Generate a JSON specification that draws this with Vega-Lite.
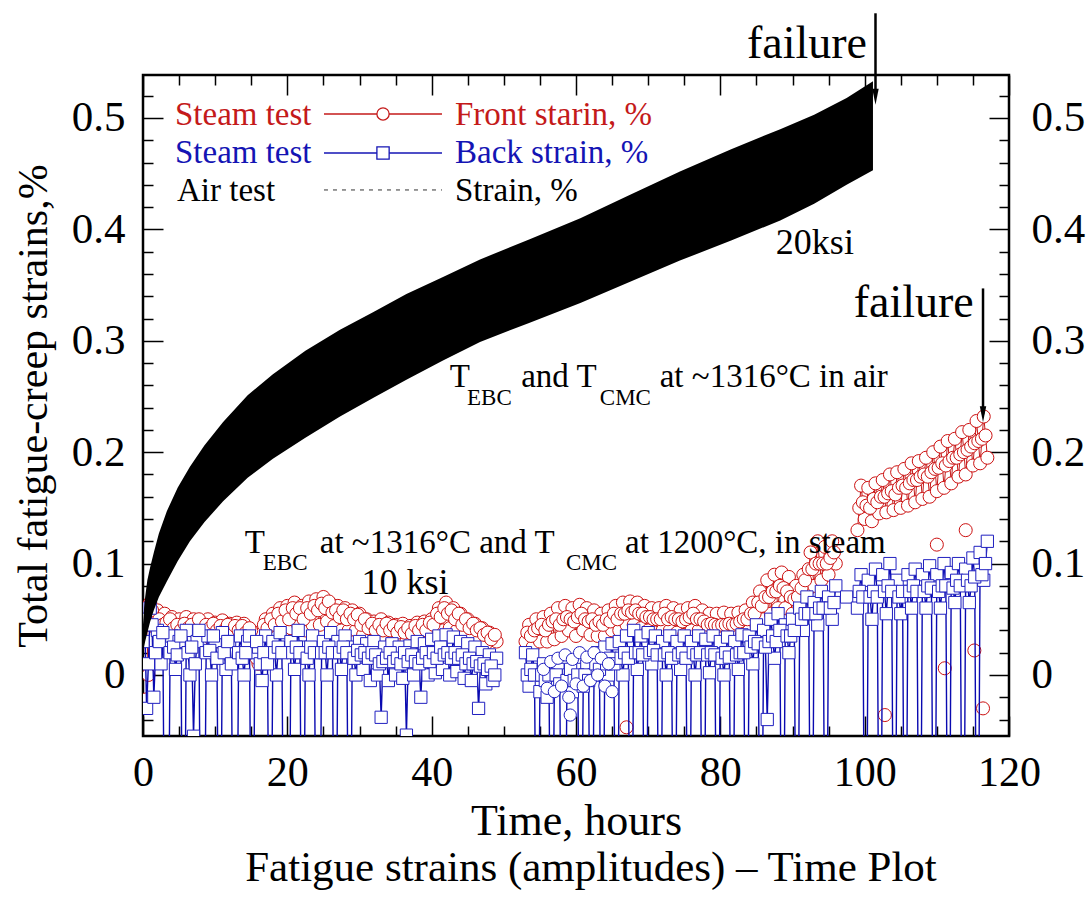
{
"$schema": "https://vega.github.io/schema/vega-lite/v6.json",
"width": 866, "height": 661,
"autosize": {"type": "none"},
"padding": {"left": 143, "top": 75, "right": 78, "bottom": 164},
"background": "white",
"config": {
  "view": {"stroke": "black", "strokeWidth": 2.5},
  "font": "Liberation Serif",
  "axis": {"grid": false, "domain": false, "labelFont": "Liberation Serif", "titleFont": "Liberation Serif", "labelColor": "black", "titleColor": "black", "tickColor": "black", "tickWidth": 1.5, "titleFontWeight": "normal", "labelFlush": false, "labelOverlap": false, "labelBound": false}
},
"title": {"text": "Fatigue strains (amplitudes) – Time Plot", "orient": "bottom", "anchor": "middle", "fontSize": 43, "font": "Liberation Serif", "fontWeight": "normal", "color": "black", "offset": 4, "dx": 15},
"resolve": {"axis": {"x": "independent", "y": "independent"}},
"datasets": {
  "steam": [
{"t":0,"f":0.03,"b":0.03},{"t":0.5,"f":0.045,"b":-0.03},{"t":1,"f":0.065,"b":0.06},{"t":1.5,"f":0.05,"b":-0.02},{"t":2,"f":0.058,"b":0.04},{"t":2.5,"f":0.035,"b":0.01},{"t":3,"f":0.055,"b":-0.2},{"t":3.5,"f":0.04,"b":-0.2},{"t":4,"f":0.052,"b":0.035},{"t":4.5,"f":0.03,"b":0.005},{"t":5,"f":0.05,"b":0.03},{"t":5.5,"f":0.034,"b":-0.2},{"t":6,"f":0.052,"b":0.04},{"t":6.5,"f":0.03,"b":0},{"t":7,"f":0.05,"b":-0.055},{"t":7.5,"f":0.036,"b":0.03},{"t":8,"f":0.048,"b":-0.2},{"t":8.5,"f":0.03,"b":-0.2},{"t":9,"f":0.05,"b":0.035},{"t":9.5,"f":0.032,"b":0},{"t":10,"f":0.047,"b":0.03},{"t":10.5,"f":0.03,"b":-0.2},{"t":11,"f":0.049,"b":0.038},{"t":11.5,"f":0.028,"b":0.005},{"t":12,"f":0.046,"b":0.03},{"t":12.5,"f":0.032,"b":-0.2},{"t":13,"f":0.047,"b":-0.2},{"t":13.5,"f":0.03,"b":0.035},{"t":14,"f":0.046,"b":0},{"t":14.5,"f":0.028,"b":0.03},{"t":15,"f":0.04,"b":-0.2},{"t":15.5,"f":0.02,"b":0.02},{"t":16,"f":0.01,"b":0.025},{"t":16.5,"f":0.03,"b":-0.005},{"t":17,"f":0.05,"b":0.035},{"t":17.5,"f":0.035,"b":-0.2},{"t":18,"f":0.055,"b":0.03},{"t":18.5,"f":0.038,"b":0},{"t":19,"f":0.06,"b":0.038},{"t":19.5,"f":0.04,"b":-0.2},{"t":20,"f":0.062,"b":-0.2},{"t":20.5,"f":0.042,"b":0.03},{"t":21,"f":0.065,"b":0.005},{"t":21.5,"f":0.045,"b":0.04},{"t":22,"f":0.062,"b":-0.2},{"t":22.5,"f":0.04,"b":0.025},{"t":23,"f":0.066,"b":0},{"t":23.5,"f":0.045,"b":0.035},{"t":24,"f":0.068,"b":-0.2},{"t":24.5,"f":0.045,"b":-0.2},{"t":25,"f":0.07,"b":0.03},{"t":25.5,"f":0.048,"b":0},{"t":26,"f":0.064,"b":0.038},{"t":26.5,"f":0.044,"b":-0.2},{"t":27,"f":0.062,"b":0.03},{"t":27.5,"f":0.04,"b":0.005},{"t":28,"f":0.06,"b":0.035},{"t":28.5,"f":0.04,"b":-0.2},{"t":29,"f":0.058,"b":0.025},{"t":29.5,"f":0.04,"b":0},
{"t":30,"f":0.055,"b":0.03},{"t":30.5,"f":0.036,"b":0.005},{"t":31,"f":0.05,"b":0.028},{"t":31.5,"f":0.032,"b":-0.005},{"t":32,"f":0.048,"b":0.03},{"t":32.5,"f":0.03,"b":0},{"t":33,"f":0.05,"b":-0.038},{"t":33.5,"f":0.032,"b":0.025},{"t":34,"f":0.047,"b":-0.005},{"t":34.5,"f":0.03,"b":0.028},{"t":35,"f":0.045,"b":0},{"t":35.5,"f":0.028,"b":0.025},{"t":36,"f":0.046,"b":-0.003},{"t":36.5,"f":0.03,"b":-0.054},{"t":37,"f":0.044,"b":0.026},{"t":37.5,"f":0.028,"b":0},{"t":38,"f":0.047,"b":0.03},{"t":38.5,"f":0.03,"b":-0.02},{"t":39,"f":0.048,"b":0.028},{"t":39.5,"f":0.032,"b":0},{"t":40,"f":0.05,"b":0.032},{"t":40.5,"f":0.035,"b":0.002},{"t":41,"f":0.06,"b":0.035},{"t":41.5,"f":0.04,"b":0.005},{"t":42,"f":0.065,"b":0.036},{"t":42.5,"f":0.042,"b":0},{"t":43,"f":0.06,"b":0.034},{"t":43.5,"f":0.04,"b":0.003},{"t":44,"f":0.055,"b":0.03},{"t":44.5,"f":0.035,"b":-0.003},{"t":45,"f":0.05,"b":0.028},{"t":45.5,"f":0.032,"b":-0.005},{"t":46,"f":0.046,"b":0.025},{"t":46.5,"f":0.03,"b":-0.03},{"t":47,"f":0.042,"b":0.02},{"t":47.5,"f":0.028,"b":-0.008},{"t":48,"f":0.038,"b":0.018},{"t":48.5,"f":0.035,"b":-0.005},{"t":49,"f":0.03,"b":0.015},
{"t":51},
{"t":53,"f":0.03,"b":0.02},{"t":53.5,"f":0.045,"b":-0.01},{"t":54,"f":0.025,"b":0.018},{"t":54.5,"f":0.05,"b":-0.2},{"t":55,"f":0.03,"b":-0.015},{"t":55.5,"f":0.052,"b":0.01},{"t":56,"f":0.03,"b":-0.02},{"t":56.5,"f":0.055,"b":-0.2},{"t":57,"f":0.032,"b":-0.01},{"t":57.5,"f":0.06,"b":0.005},{"t":58,"f":0.035,"b":-0.2},{"t":58.5,"f":0.062,"b":-0.2},{"t":59,"f":0.04,"b":0},{"t":59.5,"f":0.06,"b":-0.015},{"t":60,"f":0.035,"b":0.005},{"t":60.5,"f":0.063,"b":-0.2},{"t":61,"f":0.04,"b":-0.01},{"t":61.5,"f":0.06,"b":0.008},{"t":62,"f":0.036,"b":-0.2},{"t":62.5,"f":0.058,"b":0},{"t":63,"f":0.035,"b":0.02},{"t":63.5,"f":0.055,"b":-0.2},{"t":64,"f":0.035,"b":0.025},{"t":64.5,"f":0.058,"b":0},{"t":65,"f":0.04,"b":0.028},{"t":65.5,"f":0.062,"b":-0.2},{"t":66,"f":0.04,"b":0.03},{"t":66.5,"f":0.065,"b":0},{"t":67,"f":0.045,"b":0.035},{"t":67.5,"f":0.066,"b":-0.2},{"t":68,"f":0.045,"b":0.04},{"t":68.5,"f":0.065,"b":0.005},{"t":69,"f":0.042,"b":0.035},{"t":69.5,"f":0.062,"b":-0.2},{"t":70,"f":0.04,"b":0.038},{"t":70.5,"f":0.06,"b":0.01},{"t":71,"f":0.038,"b":0.035},{"t":71.5,"f":0.06,"b":-0.2},{"t":72,"f":0.04,"b":0.03},{"t":72.5,"f":0.062,"b":0},{"t":73,"f":0.04,"b":0.035},{"t":73.5,"f":0.06,"b":-0.2},{"t":74,"f":0.038,"b":0.03},{"t":74.5,"f":0.058,"b":0.005},{"t":75,"f":0.036,"b":0.035},{"t":75.5,"f":0.06,"b":-0.2},{"t":76,"f":0.04,"b":0.03},{"t":76.5,"f":0.062,"b":0},{"t":77,"f":0.04,"b":0.035},{"t":77.5,"f":0.058,"b":-0.2},{"t":78,"f":0.036,"b":0.032},{"t":78.5,"f":0.055,"b":0.002},{"t":79,"f":0.035,"b":0.035},{"t":79.5,"f":0.055,"b":-0.2},{"t":80,"f":0.035,"b":0.03},{"t":80.5,"f":0.056,"b":0},{"t":81,"f":0.034,"b":0.034},{"t":81.5,"f":0.055,"b":-0.2},{"t":82,"f":0.034,"b":0.03},{"t":82.5,"f":0.056,"b":0.005},{"t":83,"f":0.036,"b":0.036},{"t":83.5,"f":0.058,"b":-0.2},{"t":84,"f":0.04,"b":0.035},{"t":84.5,"f":0.065,"b":0.01},{"t":85,"f":0.045,"b":0.045},{"t":85.5,"f":0.075,"b":-0.2},{"t":86,"f":0.05,"b":0.04},{"t":86.5,"f":0.085,"b":-0.04},{"t":87,"f":0.055,"b":0.05},{"t":87.5,"f":0.09,"b":0.015},{"t":88,"f":0.06,"b":0.055},{"t":88.5,"f":0.092,"b":-0.2},{"t":89,"f":0.06,"b":0.045},{"t":89.5,"f":0.088,"b":0.02},{"t":90,"f":0.055,"b":0.05},{"t":90.5,"f":0.08,"b":-0.2},{"t":91,"f":0.06,"b":0.06},{"t":91.5,"f":0.09,"b":0.04},{"t":92,"f":0.075,"b":0.07},{"t":92.5,"f":0.11,"b":-0.2},{"t":93,"f":0.08,"b":0.065},{"t":93.5,"f":0.12,"b":0.045},{"t":94,"f":0.085,"b":0.075},{"t":94.5,"f":0.115,"b":-0.2},{"t":95,"f":0.09,"b":0.07},{"t":95.5,"f":0.12,"b":0.05},{"t":96,"f":0.1,"b":0.08},
{"t":97.5,"b":0.07},
{"t":99,"f":0.13,"b":0.06},{"t":99.5,"f":0.17,"b":0.09},{"t":100,"f":0.14,"b":-0.2},{"t":100.5,"f":0.168,"b":0.085},{"t":101,"f":0.138,"b":0.05},{"t":101.5,"f":0.172,"b":0.095},{"t":102,"f":0.145,"b":-0.2},{"t":102.5,"f":0.175,"b":0.09},{"t":103,"f":0.146,"b":0.055},{"t":103.5,"f":0.18,"b":0.1},{"t":104,"f":0.148,"b":-0.2},{"t":104.5,"f":0.182,"b":0.085},{"t":105,"f":0.15,"b":0.055},{"t":105.5,"f":0.185,"b":-0.2},{"t":106,"f":0.152,"b":0.09},{"t":106.5,"f":0.19,"b":0.06},{"t":107,"f":0.155,"b":0.095},{"t":107.5,"f":0.192,"b":-0.2},{"t":108,"f":0.158,"b":0.09},{"t":108.5,"f":0.195,"b":0.06},{"t":109,"f":0.16,"b":0.098},{"t":109.5,"f":0.2,"b":-0.2},{"t":110,"f":0.165,"b":0.09},{"t":110.5,"f":0.205,"b":0.06},{"t":111,"f":0.168,"b":0.1},{"t":111.5,"f":0.21,"b":-0.2},{"t":112,"f":0.172,"b":0.092},{"t":112.5,"f":0.212,"b":0.065},{"t":113,"f":0.178,"b":0.1},{"t":113.5,"f":0.218,"b":-0.2},{"t":114,"f":0.18,"b":0.095},{"t":114.5,"f":0.22,"b":0.065},{"t":115,"f":0.188,"b":0.105},{"t":115.5,"f":0.228,"b":-0.2},{"t":116,"f":0.19,"b":0.11},{"t":116.5,"f":0.232,"b":0.085},{"t":117,"f":0.195,"b":0.12},
{"t":0.25,"f":0.06,"b":0.05},{"t":0.75,"f":0.0,"b":0.01},{"t":1.25,"f":0.058,"b":0.045},{"t":1.75,"f":0.042,"b":0.02},{"t":2.25,"f":0.05,"b":0.03},{"t":2.75,"f":0.045,"b":0.038},{"t":3.25,"f":0.047,"b":-0.2},{"t":3.75,"f":0.05,"b":0.02},{"t":4.25,"f":0.042,"b":0.025},{"t":4.75,"f":0.045,"b":0.018},{"t":5.25,"f":0.04,"b":0.035},{"t":5.75,"f":0.046,"b":-0.2},{"t":6.25,"f":0.042,"b":0.02},{"t":6.75,"f":0.045,"b":0.025},{"t":7.25,"f":0.04,"b":0.01},{"t":7.75,"f":0.05,"b":0.04},{"t":8.25,"f":0.04,"b":-0.2},{"t":8.75,"f":0.045,"b":0.02},{"t":9.25,"f":0.042,"b":0.022},{"t":9.75,"f":0.046,"b":0.035},{"t":10.25,"f":0.04,"b":0.015},{"t":10.75,"f":0.044,"b":-0.2},{"t":11.25,"f":0.04,"b":0.02},{"t":11.75,"f":0.045,"b":0.03},{"t":12.25,"f":0.038,"b":0.01},{"t":12.75,"f":0.044,"b":-0.2},{"t":13.25,"f":0.04,"b":0.02},{"t":13.75,"f":0.044,"b":0.015},{"t":14.25,"f":0.038,"b":0.02},{"t":14.75,"f":0.042,"b":0.035},{"t":15.25,"f":0.03,"b":-0.2},{"t":15.75,"f":0.015,"b":0.03},{"t":16.25,"f":0.02,"b":0.01},{"t":16.75,"f":0.045,"b":0.02},{"t":17.25,"f":0.042,"b":0.01},{"t":17.75,"f":0.05,"b":-0.2},{"t":18.25,"f":0.045,"b":0.02},{"t":18.75,"f":0.055,"b":0.025},{"t":19.25,"f":0.048,"b":0.02},{"t":19.75,"f":0.058,"b":-0.2},{"t":20.25,"f":0.05,"b":-0.2},{"t":20.75,"f":0.06,"b":0.02},{"t":21.25,"f":0.055,"b":0.025},{"t":21.75,"f":0.06,"b":0.02},{"t":22.25,"f":0.05,"b":-0.2},{"t":22.75,"f":0.06,"b":0.015},{"t":23.25,"f":0.055,"b":0.025},{"t":23.75,"f":0.062,"b":0.02},{"t":24.25,"f":0.058,"b":-0.2},{"t":24.75,"f":0.064,"b":0.02},{"t":25.25,"f":0.06,"b":0.02},{"t":25.75,"f":0.066,"b":0.025},{"t":26.25,"f":0.056,"b":0.02},{"t":26.75,"f":0.058,"b":-0.2},{"t":27.25,"f":0.052,"b":0.02},{"t":27.75,"f":0.058,"b":0.025},{"t":28.25,"f":0.05,"b":0.02},{"t":28.75,"f":0.055,"b":-0.2},{"t":29.25,"f":0.05,"b":0.015},{"t":29.75,"f":0.054,"b":0.022},
{"t":30.25,"f":0.045,"b":0.018},{"t":30.75,"f":0.05,"b":0.02},{"t":31.25,"f":0.042,"b":0.015},{"t":31.75,"f":0.046,"b":0.02},{"t":32.25,"f":0.04,"b":0.018},{"t":32.75,"f":0.045,"b":0.01},{"t":33.25,"f":0.04,"b":0.012},{"t":33.75,"f":0.046,"b":0.015},{"t":34.25,"f":0.04,"b":0.02},{"t":34.75,"f":0.044,"b":0.012},{"t":35.25,"f":0.038,"b":0.015},{"t":35.75,"f":0.043,"b":0.01},{"t":36.25,"f":0.038,"b":0.02},{"t":36.75,"f":0.042,"b":0.012},{"t":37.25,"f":0.037,"b":0.018},{"t":37.75,"f":0.044,"b":0.012},{"t":38.25,"f":0.04,"b":0.01},{"t":38.75,"f":0.045,"b":0.015},{"t":39.25,"f":0.04,"b":0.02},{"t":39.75,"f":0.047,"b":0.012},{"t":40.25,"f":0.045,"b":0.02},{"t":40.75,"f":0.055,"b":0.015},{"t":41.25,"f":0.052,"b":0.025},{"t":41.75,"f":0.06,"b":0.018},{"t":42.25,"f":0.055,"b":0.02},{"t":42.75,"f":0.058,"b":0.015},{"t":43.25,"f":0.05,"b":0.02},{"t":43.75,"f":0.055,"b":0.015},{"t":44.25,"f":0.045,"b":0.018},{"t":44.75,"f":0.05,"b":0.01},{"t":45.25,"f":0.042,"b":0.015},{"t":45.75,"f":0.046,"b":0.01},{"t":46.25,"f":0.04,"b":0.012},{"t":46.75,"f":0.042,"b":0.008},{"t":47.25,"f":0.036,"b":0.01},{"t":47.75,"f":0.038,"b":0.005},{"t":48.25,"f":0.032,"b":0.008},{"t":48.75,"f":0.036,"b":0},
{"t":53.25,"f":0.038,"b":0},{"t":53.75,"f":0.035,"b":0.005},{"t":54.25,"f":0.04,"b":0},{"t":54.75,"f":0.042,"b":-0.2},{"t":55.25,"f":0.045,"b":0},{"t":55.75,"f":0.04,"b":-0.005},{"t":56.25,"f":0.045,"b":0},{"t":56.75,"f":0.048,"b":-0.2},{"t":57.25,"f":0.05,"b":0},{"t":57.75,"f":0.045,"b":-0.008},{"t":58.25,"f":0.05,"b":-0.2},{"t":58.75,"f":0.052,"b":-0.005},{"t":59.25,"f":0.05,"b":0.005},{"t":59.75,"f":0.048,"b":-0.005},{"t":60.25,"f":0.052,"b":0},{"t":60.75,"f":0.055,"b":-0.2},{"t":61.25,"f":0.05,"b":0},{"t":61.75,"f":0.048,"b":-0.005},{"t":62.25,"f":0.05,"b":-0.2},{"t":62.75,"f":0.045,"b":0.01},{"t":63.25,"f":0.048,"b":0.005},{"t":63.75,"f":0.045,"b":-0.2},{"t":64.25,"f":0.05,"b":0.01},{"t":64.75,"f":0.048,"b":0.015},{"t":65.25,"f":0.055,"b":0.01},{"t":65.75,"f":0.05,"b":-0.2},{"t":66.25,"f":0.055,"b":0.015},{"t":66.75,"f":0.055,"b":0.02},{"t":67.25,"f":0.058,"b":0.015},{"t":67.75,"f":0.056,"b":-0.2},{"t":68.25,"f":0.058,"b":0.02},{"t":68.75,"f":0.055,"b":0.02},{"t":69.25,"f":0.055,"b":0.018},{"t":69.75,"f":0.052,"b":-0.2},{"t":70.25,"f":0.052,"b":0.02},{"t":70.75,"f":0.05,"b":0.022},{"t":71.25,"f":0.05,"b":0.018},{"t":71.75,"f":0.05,"b":-0.2},{"t":72.25,"f":0.055,"b":0.018},{"t":72.75,"f":0.05,"b":0.02},{"t":73.25,"f":0.052,"b":0.015},{"t":73.75,"f":0.05,"b":-0.2},{"t":74.25,"f":0.05,"b":0.018},{"t":74.75,"f":0.048,"b":0.02},{"t":75.25,"f":0.05,"b":0.015},{"t":75.75,"f":0.052,"b":-0.2},{"t":76.25,"f":0.055,"b":0.02},{"t":76.75,"f":0.05,"b":0.018},{"t":77.25,"f":0.05,"b":0.02},{"t":77.75,"f":0.048,"b":-0.2},{"t":78.25,"f":0.045,"b":0.018},{"t":78.75,"f":0.046,"b":0.02},{"t":79.25,"f":0.045,"b":0.018},{"t":79.75,"f":0.044,"b":-0.2},{"t":80.25,"f":0.045,"b":0.015},{"t":80.75,"f":0.045,"b":0.02},{"t":81.25,"f":0.046,"b":0.016},{"t":81.75,"f":0.045,"b":-0.2},{"t":82.25,"f":0.046,"b":0.018},{"t":82.75,"f":0.048,"b":0.02},{"t":83.25,"f":0.05,"b":0.02},{"t":83.75,"f":0.05,"b":-0.2},{"t":84.25,"f":0.055,"b":0.025},{"t":84.75,"f":0.055,"b":0.03},{"t":85.25,"f":0.065,"b":0.028},{"t":85.75,"f":0.062,"b":-0.2},{"t":86.25,"f":0.07,"b":0.025},{"t":86.75,"f":0.07,"b":0.03},{"t":87.25,"f":0.075,"b":0.035},{"t":87.75,"f":0.075,"b":0.03},{"t":88.25,"f":0.08,"b":0.04},{"t":88.75,"f":0.078,"b":-0.2},{"t":89.25,"f":0.075,"b":0.035},{"t":89.75,"f":0.07,"b":0.035},{"t":90.25,"f":0.068,"b":0.04},{"t":90.75,"f":0.07,"b":-0.2},{"t":91.25,"f":0.078,"b":0.05},{"t":91.75,"f":0.085,"b":0.055},{"t":92.25,"f":0.095,"b":0.055},{"t":92.75,"f":0.095,"b":-0.2},{"t":93.25,"f":0.1,"b":0.055},{"t":93.75,"f":0.1,"b":0.06},{"t":94.25,"f":0.1,"b":0.06},{"t":94.75,"f":0.1,"b":-0.2},{"t":95.25,"f":0.105,"b":0.06},{"t":95.75,"f":0.11,"b":0.065},
{"t":99.25,"f":0.15,"b":0.075},{"t":99.75,"f":0.155,"b":0.07},{"t":100.25,"f":0.152,"b":-0.2},{"t":100.75,"f":0.15,"b":0.07},{"t":101.25,"f":0.158,"b":0.075},{"t":101.75,"f":0.155,"b":0.07},{"t":102.25,"f":0.16,"b":-0.2},{"t":102.75,"f":0.16,"b":0.075},{"t":103.25,"f":0.163,"b":0.08},{"t":103.75,"f":0.165,"b":0.075},{"t":104.25,"f":0.162,"b":-0.2},{"t":104.75,"f":0.168,"b":0.07},{"t":105.25,"f":0.17,"b":0.075},{"t":105.75,"f":0.168,"b":-0.2},{"t":106.25,"f":0.172,"b":0.075},{"t":106.75,"f":0.175,"b":0.08},{"t":107.25,"f":0.175,"b":0.075},{"t":107.75,"f":0.178,"b":-0.2},{"t":108.25,"f":0.18,"b":0.075},{"t":108.75,"f":0.178,"b":0.08},{"t":109.25,"f":0.182,"b":0.078},{"t":109.75,"f":0.185,"b":-0.2},{"t":110.25,"f":0.186,"b":0.075},{"t":110.75,"f":0.19,"b":0.08},{"t":111.25,"f":0.188,"b":0.08},{"t":111.75,"f":0.192,"b":-0.2},{"t":112.25,"f":0.195,"b":0.078},{"t":112.75,"f":0.195,"b":0.085},{"t":113.25,"f":0.198,"b":0.08},{"t":113.75,"f":0.2,"b":-0.2},{"t":114.25,"f":0.202,"b":0.085},{"t":114.75,"f":0.205,"b":0.08},{"t":115.25,"f":0.208,"b":0.088},{"t":115.75,"f":0.21,"b":-0.2},{"t":116.25,"f":0.212,"b":0.09},{"t":116.75,"f":0.215,"b":0.1}
  ],
  "fout": [{"t":0.4,"v":-0.022},{"t":67,"v":-0.047},{"t":102.8,"v":-0.036},{"t":110,"v":0.117},{"t":111.1,"v":0.006},{"t":114,"v":0.13},{"t":115.2,"v":0.022},{"t":116.4,"v":-0.03}],
  "bcirc": [{"t":55.5,"v":0.005},{"t":56,"v":-0.012},{"t":56.5,"v":0.012},{"t":57,"v":-0.015},{"t":57.5,"v":0.015},{"t":58,"v":-0.01},{"t":58.5,"v":0.018},{"t":59,"v":-0.02},{"t":59.2,"v":-0.036},{"t":59.5,"v":0.014},{"t":60,"v":-0.008},{"t":60.5,"v":0.02},{"t":61,"v":-0.01},{"t":61.5,"v":0.016},{"t":62,"v":-0.005},{"t":62.5,"v":0.02},{"t":63,"v":0},{"t":63.5,"v":0.015},{"t":64,"v":-0.01},{"t":64.5,"v":0.01},{"t":65,"v":-0.015}],
  "air": [{"t":0,"lo":0.02,"hi":0.045},{"t":0.15,"lo":0.025,"hi":0.06},{"t":0.3,"lo":0.03,"hi":0.07},{"t":0.6,"lo":0.038,"hi":0.085},{"t":1,"lo":0.048,"hi":0.097},{"t":1.5,"lo":0.058,"hi":0.11},{"t":2.2,"lo":0.07,"hi":0.127},{"t":3.3,"lo":0.084,"hi":0.147},{"t":4.8,"lo":0.102,"hi":0.168},{"t":6.5,"lo":0.12,"hi":0.187},{"t":8.5,"lo":0.137,"hi":0.206},{"t":11.1,"lo":0.156,"hi":0.227},{"t":14.5,"lo":0.177,"hi":0.251},{"t":18,"lo":0.194,"hi":0.27},{"t":22.5,"lo":0.213,"hi":0.291},{"t":27.3,"lo":0.232,"hi":0.31},{"t":32,"lo":0.249,"hi":0.326},{"t":36.5,"lo":0.265,"hi":0.342},{"t":41.5,"lo":0.282,"hi":0.357},{"t":46.7,"lo":0.299,"hi":0.373},{"t":53.5,"lo":0.316,"hi":0.391},{"t":60.6,"lo":0.334,"hi":0.41},{"t":67.5,"lo":0.353,"hi":0.431},{"t":74.4,"lo":0.372,"hi":0.452},{"t":81.5,"lo":0.39,"hi":0.472},{"t":88.3,"lo":0.408,"hi":0.49},{"t":93,"lo":0.423,"hi":0.503},{"t":97.5,"lo":0.44,"hi":0.518},{"t":101.15,"lo":0.453,"hi":0.533}]
},
"layer": [
  {
    "data": {"name": "steam"},
    "mark": {"type": "line", "color": "#c41a1a", "strokeWidth": 1, "clip": true, "invalid": "break-paths-show-domains"},
    "encoding": {
      "x": {"field": "t", "type": "quantitative", "scale": {"domain": [0, 120], "nice": false, "zero": false},
        "axis": {"orient": "bottom", "values": [0, 20, 40, 60, 80, 100, 120], "tickSize": -20, "labelPadding": 36, "labelFontSize": 42, "format": "d", "title": "Time, hours", "titleFontSize": 44, "titlePadding": 6}},
      "y": {"field": "f", "type": "quantitative", "scale": {"domain": [-0.0548, 0.5386], "nice": false, "zero": false},
        "axis": {"orient": "left", "values": [0, 0.1, 0.2, 0.3, 0.4, 0.5], "tickSize": -20, "labelPadding": 38, "labelFontSize": 43, "format": "~g", "title": "Total fatigue-creep strains,%", "titleFontSize": 42, "titlePadding": 16}}
    }
  },
  {
    "data": {"name": "steam"},
    "mark": {"type": "point", "shape": "circle", "filled": true, "fill": "white", "stroke": "#cc1111", "strokeWidth": 1, "size": 170, "clip": true, "opacity": 1},
    "encoding": {
      "x": {"field": "t", "type": "quantitative", "scale": {"domain": [0, 120]},
        "axis": {"orient": "bottom", "values": [5, 10, 15, 25, 30, 35, 45, 50, 55, 65, 70, 75, 85, 90, 95, 105, 110, 115], "tickSize": -10, "labels": false, "title": null}},
      "y": {"field": "f", "type": "quantitative", "scale": {"domain": [-0.0548, 0.5386]},
        "axis": {"orient": "left", "values": [-0.04, -0.02, 0.02, 0.04, 0.06, 0.08, 0.12, 0.14, 0.16, 0.18, 0.22, 0.24, 0.26, 0.28, 0.32, 0.34, 0.36, 0.38, 0.42, 0.44, 0.46, 0.48, 0.52], "tickSize": -10, "labels": false, "title": null}}
    }
  },
  {
    "data": {"name": "fout"},
    "mark": {"type": "point", "shape": "circle", "filled": true, "fill": "white", "stroke": "#cc1111", "strokeWidth": 1, "size": 170, "clip": true, "opacity": 1},
    "encoding": {
      "x": {"field": "t", "type": "quantitative", "axis": null},
      "y": {"field": "v", "type": "quantitative", "axis": null}
    }
  },
  {
    "data": {"name": "steam"},
    "mark": {"type": "line", "color": "#0a0ab0", "strokeWidth": 1.4, "clip": true, "invalid": "break-paths-show-domains"},
    "encoding": {
      "x": {"field": "t", "type": "quantitative", "scale": {"domain": [0, 120]},
        "axis": {"orient": "top", "values": [0, 20, 40, 60, 80, 100, 120], "tickSize": -20, "labels": false, "title": null}},
      "y": {"field": "b", "type": "quantitative", "scale": {"domain": [-0.0548, 0.5386]},
        "axis": {"orient": "right", "values": [0, 0.1, 0.2, 0.3, 0.4, 0.5], "tickSize": -20, "labelPadding": 42, "labelFontSize": 43, "format": "~g", "title": null}}
    }
  },
  {
    "data": {"name": "steam"},
    "mark": {"type": "point", "shape": "square", "filled": true, "fill": "white", "stroke": "#2020c0", "strokeWidth": 1, "size": 150, "clip": true, "opacity": 1},
    "encoding": {
      "x": {"field": "t", "type": "quantitative", "scale": {"domain": [0, 120]},
        "axis": {"orient": "top", "values": [5, 10, 15, 25, 30, 35, 45, 50, 55, 65, 70, 75, 85, 90, 95, 105, 110, 115], "tickSize": -10, "labels": false, "title": null}},
      "y": {"field": "b", "type": "quantitative", "scale": {"domain": [-0.0548, 0.5386]},
        "axis": {"orient": "right", "values": [-0.04, -0.02, 0.02, 0.04, 0.06, 0.08, 0.12, 0.14, 0.16, 0.18, 0.22, 0.24, 0.26, 0.28, 0.32, 0.34, 0.36, 0.38, 0.42, 0.44, 0.46, 0.48, 0.52], "tickSize": -10, "labels": false, "title": null}}
    }
  },
  {
    "data": {"name": "bcirc"},
    "mark": {"type": "point", "shape": "circle", "filled": true, "fill": "white", "stroke": "#2020c0", "strokeWidth": 1, "size": 150, "clip": true, "opacity": 1},
    "encoding": {
      "x": {"field": "t", "type": "quantitative", "axis": null},
      "y": {"field": "v", "type": "quantitative", "axis": null}
    }
  },
  {
    "data": {"name": "air"},
    "mark": {"type": "area", "color": "black", "clip": true},
    "encoding": {
      "x": {"field": "t", "type": "quantitative", "axis": null},
      "y": {"field": "lo", "type": "quantitative", "axis": null},
      "y2": {"field": "hi"}
    }
  },
  {
    "data": {"values": [{"s": "front", "x1": 25.08, "x2": 41.43, "y": 0.5036}, {"s": "back", "x1": 25.08, "x2": 41.43, "y": 0.4686}]},
    "mark": {"type": "rule", "strokeWidth": 1.5},
    "encoding": {
      "x": {"field": "x1", "type": "quantitative", "axis": null},
      "x2": {"field": "x2"},
      "y": {"field": "y", "type": "quantitative", "axis": null},
      "color": {"field": "s", "type": "nominal", "scale": {"domain": ["front", "back", "air"], "range": ["#c41a1a", "#1414b4", "#000000"]}, "legend": null}
    }
  },
  {
    "data": {"values": [{"x1": 25.08, "x2": 41.43, "y": 0.4354}]},
    "mark": {"type": "rule", "strokeWidth": 1, "strokeDash": [4, 5], "color": "#333333"},
    "encoding": {
      "x": {"field": "x1", "type": "quantitative", "axis": null},
      "x2": {"field": "x2"},
      "y": {"field": "y", "type": "quantitative", "axis": null}
    }
  },
  {
    "data": {"values": [{"s": "front", "x": 33.26, "y": 0.5036}, {"s": "back", "x": 33.26, "y": 0.4686}]},
    "mark": {"type": "point", "filled": true, "fill": "white", "strokeWidth": 1.3, "size": 150, "opacity": 1},
    "encoding": {
      "x": {"field": "x", "type": "quantitative", "axis": null},
      "y": {"field": "y", "type": "quantitative", "axis": null},
      "shape": {"field": "s", "type": "nominal", "scale": {"domain": ["front", "back"], "range": ["circle", "square"]}, "legend": null},
      "stroke": {"field": "s", "type": "nominal", "scale": {"domain": ["front", "back", "air"], "range": ["#c41a1a", "#1414b4", "#000000"]}, "legend": null}
    }
  },
  {
    "data": {"values": [
      {"s": "front", "x": 4.43, "y": 0.4937, "txt": "Steam test"},
      {"s": "front", "x": 43.23, "y": 0.4937, "txt": "Front starin, %"},
      {"s": "back", "x": 4.43, "y": 0.4599, "txt": "Steam test"},
      {"s": "back", "x": 43.23, "y": 0.4599, "txt": "Back strain, %"},
      {"s": "air", "x": 4.71, "y": 0.4255, "txt": "Air test"},
      {"s": "air", "x": 43.23, "y": 0.4255, "txt": "Strain, %"}
    ]},
    "mark": {"type": "text", "align": "left", "baseline": "alphabetic", "fontSize": 33, "font": "Liberation Serif"},
    "encoding": {
      "x": {"field": "x", "type": "quantitative", "axis": null},
      "y": {"field": "y", "type": "quantitative", "axis": null},
      "text": {"field": "txt"},
      "color": {"field": "s", "type": "nominal", "scale": {"domain": ["front", "back", "air"], "range": ["#c41a1a", "#1414b4", "#000000"]}, "legend": null}
    }
  },
  {
    "data": {"values": [
      {"x": 42.5, "y": 0.2585, "txt": "T"},
      {"x": 52.4, "y": 0.2585, "txt": "and T"},
      {"x": 71.6, "y": 0.2585, "txt": "at ~1316°C in air"},
      {"x": 14.1, "y": 0.1095, "txt": "T"},
      {"x": 24.5, "y": 0.1095, "txt": "at ~1316°C and T"},
      {"x": 66.8, "y": 0.1095, "txt": "at 1200°C, in steam"}
    ]},
    "mark": {"type": "text", "align": "left", "baseline": "alphabetic", "fontSize": 33, "font": "Liberation Serif", "color": "black"},
    "encoding": {
      "x": {"field": "x", "type": "quantitative", "axis": null},
      "y": {"field": "y", "type": "quantitative", "axis": null},
      "text": {"field": "txt"}
    }
  },
  {
    "data": {"values": [
      {"x": 44.9, "y": 0.2424, "txt": "EBC"},
      {"x": 63.3, "y": 0.2424, "txt": "CMC"},
      {"x": 16.6, "y": 0.0943, "txt": "EBC"},
      {"x": 58.6, "y": 0.0943, "txt": "CMC"}
    ]},
    "mark": {"type": "text", "align": "left", "baseline": "alphabetic", "fontSize": 23, "font": "Liberation Serif", "color": "black"},
    "encoding": {
      "x": {"field": "x", "type": "quantitative", "axis": null},
      "y": {"field": "y", "type": "quantitative", "axis": null},
      "text": {"field": "txt"}
    }
  },
  {
    "data": {"values": [
      {"x": 36.3, "y": 0.0826, "txt": "10 ksi"},
      {"x": 93.1, "y": 0.388, "txt": "20ksi"}
    ]},
    "mark": {"type": "text", "align": "center", "baseline": "middle", "fontSize": 36, "font": "Liberation Serif", "color": "black"},
    "encoding": {
      "x": {"field": "x", "type": "quantitative", "axis": null},
      "y": {"field": "y", "type": "quantitative", "axis": null},
      "text": {"field": "txt"}
    }
  },
  {
    "data": {"values": [
      {"x": 92.0, "y": 0.5539, "txt": "failure"},
      {"x": 106.8, "y": 0.3214, "txt": "failure"}
    ]},
    "mark": {"type": "text", "align": "center", "baseline": "alphabetic", "fontSize": 46, "font": "Liberation Serif", "color": "black"},
    "encoding": {
      "x": {"field": "x", "type": "quantitative", "axis": null},
      "y": {"field": "y", "type": "quantitative", "axis": null},
      "text": {"field": "txt"}
    }
  },
  {
    "data": {"values": [
      {"x": 101.5, "y1": 0.594, "y2": 0.519},
      {"x": 116.4, "y1": 0.347, "y2": 0.234}
    ]},
    "mark": {"type": "rule", "strokeWidth": 2.5, "color": "black"},
    "encoding": {
      "x": {"field": "x", "type": "quantitative", "axis": null},
      "y": {"field": "y1", "type": "quantitative", "axis": null},
      "y2": {"field": "y2"}
    }
  },
  {
    "data": {"values": [
      {"x": 101.5, "y": 0.519},
      {"x": 116.4, "y": 0.234}
    ]},
    "mark": {"type": "point", "shape": "M-0.4,-1L0.4,-1L0,1Z", "filled": true, "color": "black", "size": 256, "opacity": 1},
    "encoding": {
      "x": {"field": "x", "type": "quantitative", "axis": null},
      "y": {"field": "y", "type": "quantitative", "axis": null}
    }
  }
]
}
